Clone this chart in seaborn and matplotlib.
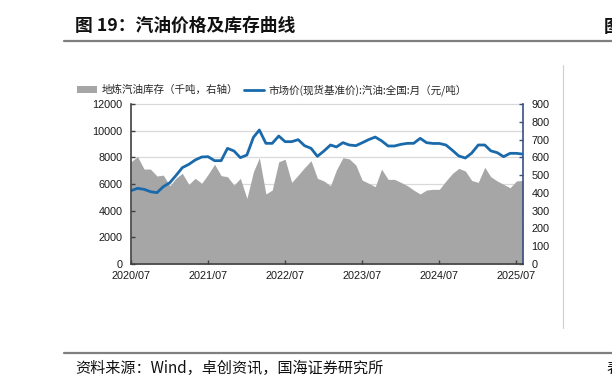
import numpy as np
import pandas as pd
import matplotlib
matplotlib.use("Agg")
import matplotlib.pyplot as plt
import matplotlib.dates as mdates
from matplotlib.transforms import blended_transform_factory
from matplotlib.patches import Patch
from matplotlib.lines import Line2D
import seaborn as sns

# ---------------- data ----------------
dates = pd.date_range("2020-07-01", periods=62, freq="MS")

price = [5500, 5675, 5600, 5425, 5350, 5800, 6100, 6675, 7225, 7475,
         7800, 8025, 8050, 7750, 7750, 8675, 8475, 7975, 8175, 9500,
         10050, 9050, 9050, 9600, 9175, 9175, 9325, 8875, 8675, 8075,
         8475, 8925, 8780, 9100, 8925, 8875, 9090, 9330, 9520, 9240,
         8850, 8850, 8975, 9050, 9050, 9425, 9100, 9040, 9040, 8925,
         8520, 8100, 7950, 8320, 8925, 8925, 8490, 8350, 8050, 8300,
         8300, 8240]

inventory = [575, 604, 534, 534, 495, 500, 440, 485, 510, 448,
             482, 454, 504, 561, 497, 491, 444, 482, 369, 519,
             598, 394, 416, 575, 589, 459, 500, 542, 581, 482,
             467, 440, 529, 598, 591, 557, 472, 454, 435, 534,
             476, 476, 459, 440, 416, 394, 416, 420, 420, 467,
             510, 538, 523, 470, 459, 544, 491, 467, 448, 429,
             467, 470]

tick_dates = pd.to_datetime(["2020-07-01", "2021-07-01", "2022-07-01",
                             "2023-07-01", "2024-07-01", "2025-07-01"])
left_ticks = [0, 2000, 4000, 6000, 8000, 10000, 12000]
right_ticks = [0, 100, 200, 300, 400, 500, 600, 700, 800, 900]

label_inv = "地炼汽油库存（千吨，右轴）"
label_price = "市场价(现货基准价):汽油:全国:月（元/吨）"
title = "图 19：汽油价格及库存曲线"
source = "资料来源：Wind，卓创资讯，国海证券研究所"

df = pd.DataFrame({"date": dates, "price": price, "inventory": inventory})

# ---------------- style ----------------
sns.set_theme(style="white")
plt.rcParams["font.family"] = ["Noto Sans CJK SC", "DejaVu Sans"]
num_font = ["Liberation Sans", "Noto Sans CJK SC"]

W, H = 612, 390
fig = plt.figure(figsize=(W / 100, H / 100), dpi=100)
fig.patch.set_facecolor("white")

BLUE = "#1a6aab"
GRAY = "#a6a6a6"
NAVY = "#3a4f86"

x0, x1, y0, y1 = 131, 523, 104, 264
ax = fig.add_axes([x0 / W, 1 - y1 / H, (x1 - x0) / W, (y1 - y0) / H])
ax2 = ax.twinx()
ax.set_zorder(2)
ax2.set_zorder(1)
ax.patch.set_visible(False)
ax2.patch.set_visible(True)
ax2.patch.set_facecolor("white")

# area (right axis)
ax2.fill_between(df["date"], 0, df["inventory"], color=GRAY, linewidth=0, zorder=2)
ax2.set_ylim(0, 900)
ax2.set_yticks(right_ticks)

# line (left axis)
sns.lineplot(data=df, x="date", y="price", ax=ax, color=BLUE, linewidth=2.0,
             legend=False)
ax.set_ylim(0, 12000)
ax.set_yticks(left_ticks)
ax.set_xlim(dates[0], dates[-1])
ax.set_xticks(tick_dates)
ax.xaxis.set_major_formatter(mdates.DateFormatter("%Y/%m"))
ax.set_xlabel("")
ax.set_ylabel("")
ax2.set_ylabel("")

# gridlines at left-axis ticks, drawn behind the area
tr = blended_transform_factory(ax2.transAxes, ax.transData)
for t in left_ticks[1:]:
    ax2.plot([0, 1], [t, t], transform=tr, color="#d9d9d9", linewidth=0.9,
             zorder=0.5, clip_on=False)

# spines
for a in (ax, ax2):
    a.spines["top"].set_visible(False)
ax.spines["right"].set_visible(False)
ax2.spines["left"].set_visible(False)
ax2.spines["bottom"].set_visible(False)
ax.spines["left"].set_color("#404040")
ax.spines["bottom"].set_color("#404040")
ax.spines["left"].set_linewidth(1.2)
ax.spines["bottom"].set_linewidth(1.2)
ax2.spines["right"].set_color(NAVY)
ax2.spines["right"].set_linewidth(1.2)

ax.tick_params(axis="y", direction="in", length=3, width=1, color="#404040",
               labelsize=7.8, pad=6, left=True)
ax.tick_params(axis="x", direction="in", length=3, width=1, color="#404040",
               labelsize=7.8, pad=5, bottom=True)
ax2.tick_params(axis="y", direction="in", length=3, width=1, color=NAVY,
                labelsize=7.8, pad=6, right=True)
for lab in ax.get_xticklabels() + ax.get_yticklabels() + ax2.get_yticklabels():
    lab.set_family(num_font)
    lab.set_color("#1a1a1a")

# legend
handles = [Patch(facecolor=GRAY, edgecolor="none"),
           Line2D([0], [0], color=BLUE, linewidth=2.0)]
fig.legend(handles, [label_inv, label_price], loc="center left",
           bbox_to_anchor=(77 / W, 1 - 90 / H), ncol=2, frameon=False,
           fontsize=7.6, handlelength=1.9, handleheight=0.7, handletextpad=0.4,
           columnspacing=0.6, borderaxespad=0, borderpad=0)

# title and frame decorations
fig.text(75 / W, 1 - 26 / H, title, fontsize=12.8, fontweight="bold",
         va="center", ha="left", color="#111111")
fig.text(604 / W, 1 - 27 / H, "图", fontsize=12.8, fontweight="bold",
         va="center", ha="left", color="#111111")
fig.add_artist(Line2D([64 / W, 1], [1 - 40.5 / H, 1 - 40.5 / H],
                      color="#7f7f7f", linewidth=1.6))
fig.add_artist(Line2D([64 / W, 1], [1 - 353 / H, 1 - 353 / H],
                      color="#7f7f7f", linewidth=1.6))
fig.add_artist(Line2D([562.5 / W, 562.5 / W], [1 - 65 / H, 1 - 328 / H],
                      color="#cfcfcf", linewidth=0.8))
fig.text(75 / W, 1 - 368 / H, source, fontsize=10.9, va="center", ha="left",
         color="#111111")
fig.text(606 / W, 1 - 368 / H, "表", fontsize=10.9, va="center", ha="left",
         color="#111111")

fig.savefig("out.png", dpi=100, facecolor="white")
